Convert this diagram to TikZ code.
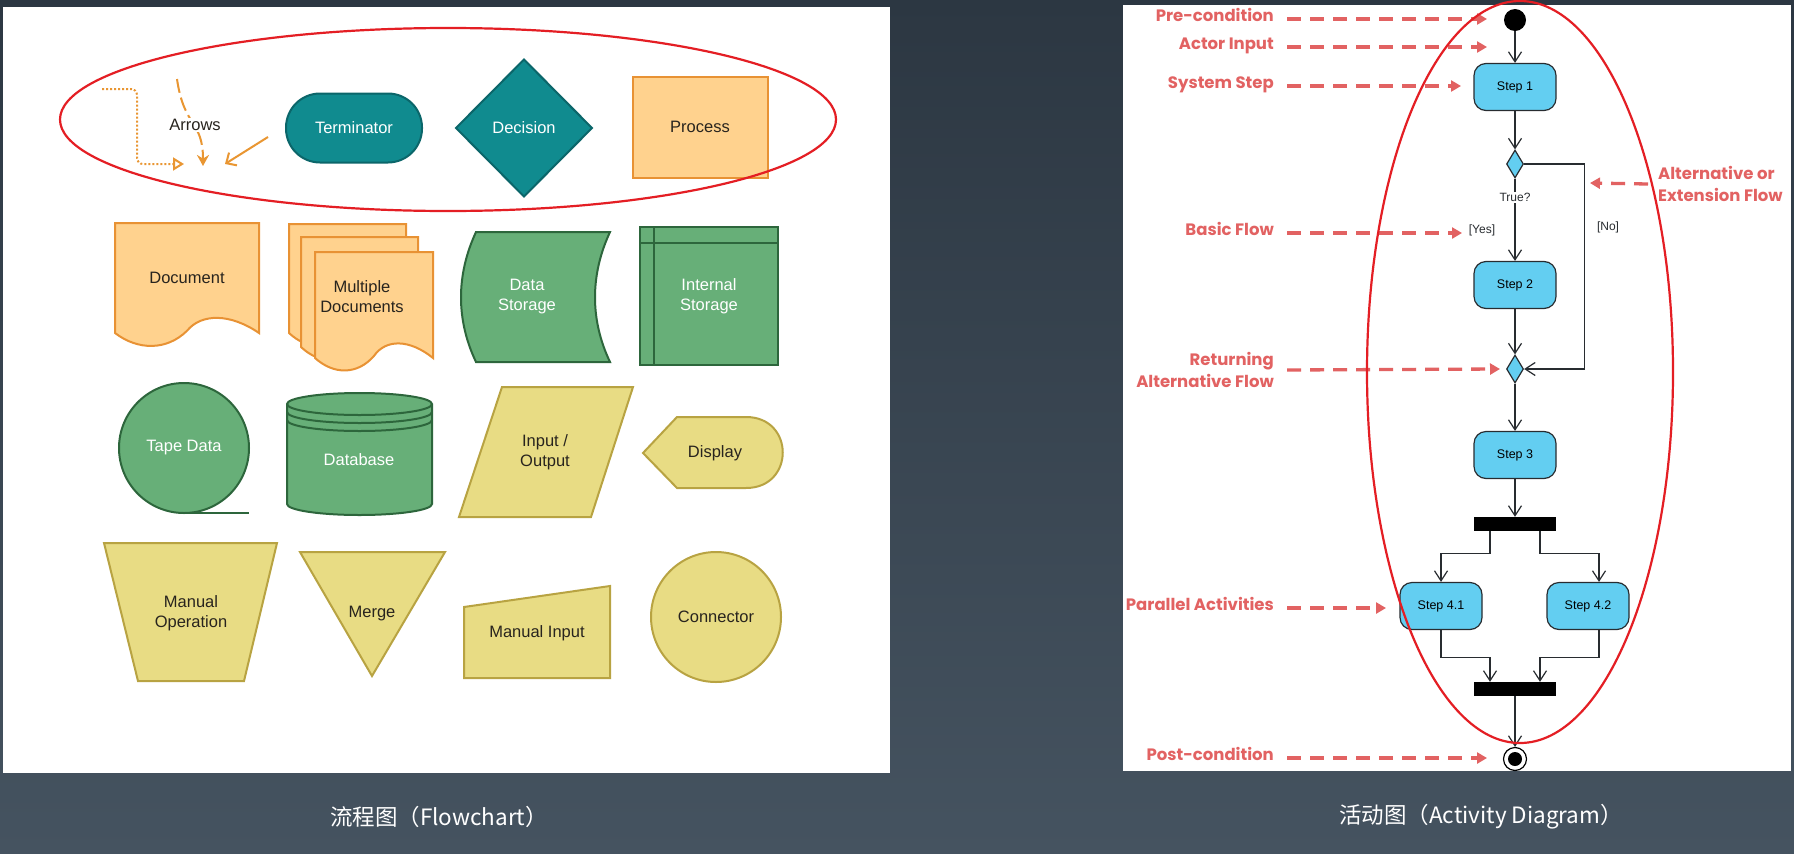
\documentclass[tikz,border=0pt]{standalone}
\usepackage{fontspec}
\setmainfont{Liberation Sans}
\newfontfamily\labelfont{Poppins}
\newfontfamily\cjkfont{Noto Sans CJK SC}
\usetikzlibrary{arrows.meta,shapes.geometric}

\definecolor{bgtop}{RGB}{44,55,66}
\definecolor{bgbottom}{RGB}{69,83,96}
\definecolor{tealfill}{RGB}{16,139,143}
\definecolor{tealline}{RGB}{11,102,106}
\definecolor{orangefill}{RGB}{255,210,142}
\definecolor{orangeline}{RGB}{232,146,52}
\definecolor{greenfill}{RGB}{103,175,120}
\definecolor{greenline}{RGB}{45,102,60}
\definecolor{yellowfill}{RGB}{232,220,132}
\definecolor{yellowline}{RGB}{184,163,66}
\definecolor{arrowcol}{RGB}{233,150,50}
\definecolor{ringred}{RGB}{228,30,36}
\definecolor{notered}{RGB}{226,98,98}
\definecolor{stepblue}{RGB}{99,206,241}
\definecolor{flowgray}{RGB}{40,44,48}
\definecolor{inktext}{RGB}{40,36,30}

% one sheet of paper with a wavy bottom, in a unit box
\newcommand{\docwave}{(0,0) -- (1,0) -- (1,1) .. controls (0.8,0.82) and (0.6,0.82) .. (0.5,0.98) .. controls (0.36,1.16) and (0.16,1.16) .. (0,1) -- cycle}

\tikzset{
  shapebase/.style={line width=2pt, inner sep=0pt, outer sep=0pt, align=center, font=\fontsize{16.5}{20}\selectfont},
  tealshape/.style={shapebase, draw=tealline, fill=tealfill, text=white},
  orangeshape/.style={shapebase, draw=orangeline, fill=orangefill, text=inktext},
  greenshape/.style={shapebase, draw=greenline, fill=greenfill, text=white},
  yellowshape/.style={shapebase, draw=yellowline, fill=yellowfill, text=inktext},
  fclabel/.style={font=\fontsize{16.5}{20}\selectfont, align=center, inner sep=1pt},
  ring/.style={draw=ringred, line width=2.2pt},
  dotarrow/.style={draw=arrowcol, line width=2pt, dash pattern=on 2pt off 2pt, rounded corners=6pt, -{Triangle[open,length=11pt,width=13pt]}},
  dasharrow/.style={draw=arrowcol, line width=2pt, dash pattern=on 14pt off 5pt, -{Stealth[length=11pt,width=12pt]}},
  solidarrow/.style={draw=arrowcol, line width=2pt, -{Straight Barb[length=8pt,width=15pt]}},
  stepbox/.style={draw=flowgray, fill=stepblue, line width=1.2pt, rounded corners=12pt, minimum width=82pt, minimum height=47pt, inner sep=0pt, font=\fontsize{12.5}{15}\selectfont},
  choice/.style={diamond, draw=flowgray, fill=stepblue, line width=1.2pt, minimum width=17pt, minimum height=28pt, inner sep=0pt},
  syncbar/.style={fill=black, minimum width=82pt, minimum height=14pt, inner sep=0pt},
  startdot/.style={circle, fill=black, minimum size=22pt, inner sep=0pt},
  stopdot/.style={circle, draw=black, fill=white, line width=1.2pt, minimum size=23pt, inner sep=0pt},
  flow/.style={draw=flowgray, line width=1.2pt, -{Straight Barb[length=10pt,width=13pt]}},
  guard/.style={font=\fontsize{12}{14}\selectfont, text=flowgray, inner sep=1pt},
  notelabel/.style={font=\labelfont\bfseries\fontsize{16.5}{22}\selectfont, text=notered, inner sep=0pt},
  notearrow/.style={draw=notered, line width=3.3pt, dash pattern=on 14pt off 9pt, -{Triangle[length=10pt,width=11pt]}},
  caption/.style={font=\cjkfont\fontsize{22.5}{26}\selectfont, text=white}
}

\begin{document}
\begin{tikzpicture}[x=1pt,y=-1pt]
  \useasboundingbox (0,0) rectangle (1794,854);
  \shade[top color=bgtop,bottom color=bgbottom] (0,0) rectangle (1794,854);
  \fill[white] (3,7) rectangle (890,773);
  \fill[white] (1123,5) rectangle (1791,771);

  % flowchart symbols
  \coordinate (dotS) at (102,89);
  \coordinate (dotK) at (137,164);
  \coordinate (dotE) at (184,164);
  \draw[dotarrow] (dotS) -| (dotK) -- (dotE);
  \coordinate (dashS) at (177,79);
  \coordinate (dashE) at (203,166);
  \draw[dasharrow] (dashS) .. controls (184,128) and (203,120) .. (dashE);
  \node[fclabel, fill=white, text=inktext] (arw) at (195,125) {Arrows};
  \coordinate (solS) at (268,137);
  \coordinate (solE) at (225,164);
  \draw[solidarrow] (solS) -- (solE);

  \node[tealshape, rounded corners=34pt, minimum width=136pt, minimum height=69pt] (term) at (354,128) {Terminator};
  \node[tealshape, diamond, minimum width=136pt, minimum height=137pt] (decis) at (524,128) {Decision};
  \node[orangeshape, minimum width=135pt, minimum height=101pt] (proc) at (700,127) {Process};

  \path[orangeshape, shift={(115,223)}, xscale=144, yscale=110] \docwave;
  \node[fclabel, text=inktext] (doc) at (187,278) {Document};
  \path[orangeshape, shift={(289,224)}, xscale=117, yscale=109] \docwave;
  \path[orangeshape, shift={(301,237)}, xscale=117, yscale=110] \docwave;
  \path[orangeshape, shift={(315,252)}, xscale=118, yscale=106] \docwave;
  \node[fclabel, text=inktext] (mdoc) at (362,297) {Multiple\\Documents};

  \path[greenshape] (476,232) -- (610,232) .. controls (590,275) and (590,320) .. (610,362) -- (476,362) .. controls (456,320) and (456,275) .. (476,232) -- cycle;
  \node[fclabel, text=white] (dstor) at (527,297) {Data\\Storage};
  \node[greenshape, minimum width=138pt, minimum height=138pt] (istor) at (709,296) {Internal\\Storage};
  \draw[greenline, line width=2pt] ([xshift=14pt]istor.north west) -- ([xshift=14pt]istor.south west);
  \draw[greenline, line width=2pt] ([yshift=-16pt]istor.north west) -- ([yshift=-16pt]istor.north east);

  \node[greenshape, circle, minimum size=130pt] (tape) at (184,448) {Tape Data};
  \draw[greenline, line width=2pt] (tape.south) -- ++(65,0);
  \path[greenshape] (287,404) -- (287,504) arc[start angle=180, end angle=0, x radius=72.5, y radius=11] -- (432,404) arc[start angle=0, end angle=-180, x radius=72.5, y radius=11] -- cycle;
  \draw[greenline, line width=2pt] (287,404) arc[start angle=180, end angle=0, x radius=72.5, y radius=11];
  \draw[greenline, line width=2pt] (287,412) arc[start angle=180, end angle=0, x radius=72.5, y radius=11];
  \draw[greenline, line width=2pt] (287,420) arc[start angle=180, end angle=0, x radius=72.5, y radius=11];
  \node[fclabel, text=white] (dbase) at (359,460) {Database};
  \path[yellowshape] (502,387) -- (633,387) -- (591,517) -- (459,517) -- cycle;
  \node[fclabel, text=inktext] (inout) at (545,452) {Input /\\Output};
  \path[yellowshape] (643,453) -- (677,417) -- (746,417) .. controls (795,417) and (795,488) .. (746,488) -- (677,488) -- cycle;
  \node[fclabel, text=inktext] (disp) at (715,453) {Display};

  \path[yellowshape] (104,543) -- (277,543) -- (244,681) -- (138,681) -- cycle;
  \node[fclabel, text=inktext] (manop) at (191,613) {Manual\\Operation};
  \path[yellowshape] (300,552) -- (445,552) -- (372,676) -- cycle;
  \node[fclabel, text=inktext] (merge) at (372,614) {Merge};
  \path[yellowshape] (464,607) -- (610,586) -- (610,678) -- (464,678) -- cycle;
  \node[fclabel, text=inktext] (manin) at (537,633) {Manual Input};
  \node[yellowshape, circle, minimum size=130pt] (conn) at (716,617) {Connector};

  \draw[ring] (448,119.5) ellipse[x radius=388, y radius=91.5];

  % activity diagram
  \node[startdot] (start) at (1515,20) {};
  \node[stepbox] (step1) at (1515,87) {Step 1};
  \node[choice] (cond) at (1515,164) {};
  \node[stepbox] (step2) at (1515,285) {Step 2};
  \node[choice] (rejoin) at (1515,369) {};
  \node[stepbox] (step3) at (1515,455) {Step 3};
  \node[syncbar] (fork) at (1515,524) {};
  \node[stepbox] (step41) at (1441,606) {Step 4.1};
  \node[stepbox] (step42) at (1588,606) {Step 4.2};
  \node[syncbar] (join) at (1515,689) {};
  \node[stopdot] (stop) at (1515,759) {};
  \fill (stop.center) circle[radius=7];

  \draw[flow] (start) -- (step1);
  \draw[flow] (step1) -- (cond);
  \draw[flow] (cond) -- node[guard, fill=white, pos=0.23] (qtrue) {True?} (step2);
  \node[guard] (yes) at (1482,230) {[Yes]};
  \draw[flow] (cond.east) -- ++(60,0) |- (rejoin.east);
  \node[guard] (no) at (1608,227) {[No]};
  \draw[flow] (step2) -- (rejoin);
  \draw[flow] (rejoin) -- (step3);
  \draw[flow] (step3) -- (fork);
  \draw[flow] ([xshift=-25pt]fork.south) -- ++(0,22) -| (step41.north);
  \draw[flow] ([xshift=25pt]fork.south) -- ++(0,22) -| ([xshift=11pt]step42.north);
  \draw[flow] (step41.south) -- ++(0,27) -| ([xshift=-25pt]join.north);
  \draw[flow] ([xshift=11pt]step42.south) -- ++(0,27) -| ([xshift=25pt]join.north);
  \draw[flow] (join) -- (stop);

  % notes on the left and right
  \node[notelabel, anchor=mid east] (nPre) at (1274,19) {Pre-condition};
  \node[notelabel, anchor=mid east] (nActor) at (1274,47) {Actor Input};
  \node[notelabel, anchor=mid east] (nSys) at (1274,86) {System Step};
  \node[notelabel, anchor=mid east] (nBasic) at (1274,233) {Basic Flow};
  \node[notelabel, anchor=east, align=right] (nRet) at (1274,370) {Returning\\Alternative Flow};
  \node[notelabel, anchor=west, align=left] (nAlt) at (1658,184) {Alternative or\\Extension Flow};
  \node[notelabel, anchor=mid east] (nPar) at (1274,608) {Parallel Activities};
  \node[notelabel, anchor=mid east] (nPost) at (1274,758) {Post-condition};
  \coordinate (tPre) at (1487,19);
  \coordinate (tActor) at (1487,47);
  \coordinate (tSys) at (1461,86);
  \coordinate (tBasic) at (1462,233);
  \coordinate (tRet) at (1500,369);
  \coordinate (tAlt) at (1590,183);
  \coordinate (tPar) at (1386,608);
  \coordinate (tPost) at (1487,758);
  \draw[notearrow] ([xshift=13pt]nPre.mid east) -- (tPre);
  \draw[notearrow] ([xshift=13pt]nActor.mid east) -- (tActor);
  \draw[notearrow] ([xshift=13pt]nSys.mid east) -- (tSys);
  \draw[notearrow] ([xshift=13pt]nBasic.mid east) -- (tBasic);
  \draw[notearrow] ([xshift=13pt]nRet.east) -- (tRet);
  \draw[notearrow] ([xshift=-10pt]nAlt.west) -- (tAlt);
  \draw[notearrow] ([xshift=13pt]nPar.mid east) -- (tPar);
  \draw[notearrow] ([xshift=13pt]nPost.mid east) -- (tPost);

  \draw[ring] (1520,372) ellipse[x radius=153, y radius=371];

  % captions
  \node[caption] (capFlow) at (439,817) {流程图（Flowchart）};
  \node[caption] (capAct) at (1481,817) {活动图（Activity Diagram）};
\end{tikzpicture}
\end{document}
